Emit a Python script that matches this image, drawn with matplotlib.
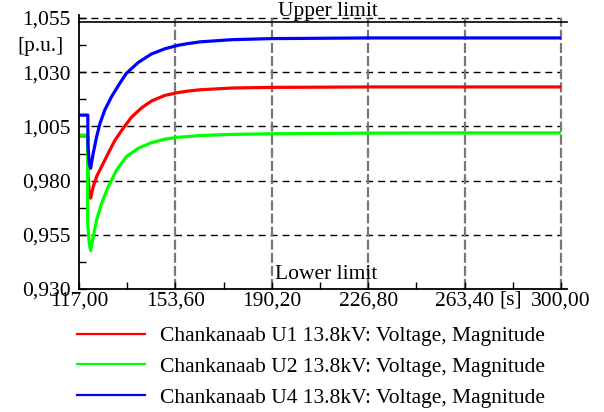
import matplotlib
matplotlib.use("Agg")
import matplotlib.pyplot as plt
from matplotlib.lines import Line2D

# values (time in s, voltage in p.u.)
t_u1 = [117.0, 120.35, 120.4, 120.9, 121.4, 122.4, 123.7, 125.6, 128.1, 130.6,
        133.8, 136.9, 140.7, 144.5, 149.6, 154.6, 158.4, 163.0, 175.0, 190.2,
        226.8, 263.4, 300.0]
v_u1 = [1.0006, 1.0006, 0.9819, 0.9742, 0.9719, 0.9772, 0.9819, 0.9865, 0.9926, 0.9985,
        1.0042, 1.0092, 1.0135, 1.0167, 1.0193, 1.0206, 1.0213, 1.0219, 1.0227, 1.0230,
        1.0232, 1.0232, 1.0232]

t_u2 = [117.0, 120.25, 120.3, 120.9, 121.4, 122.4, 123.7, 125.6, 128.1, 131.3,
        135.0, 139.5, 144.5, 149.6, 154.6, 158.4, 163.0, 175.0, 190.2, 226.8,
        263.4, 300.0]
v_u2 = [1.0010, 1.0010, 0.9600, 0.9511, 0.9477, 0.9542, 0.9619, 0.9696, 0.9772, 0.9849,
        0.9911, 0.9949, 0.9975, 0.9991, 1.0000, 1.0003, 1.0008, 1.0013, 1.0016, 1.0019,
        1.0020, 1.0020]

t_u4 = [117.0, 120.35, 120.4, 120.9, 121.4, 122.4, 123.7, 125.0, 126.8, 129.4,
        132.5, 135.0, 139.5, 144.5, 149.6, 154.6, 158.4, 163.0, 175.0, 190.2,
        226.8, 263.4, 300.0]
v_u4 = [1.0102, 1.0102, 0.9960, 0.9880, 0.9857, 0.9926, 1.0003, 1.0065, 1.0126, 1.0188,
        1.0249, 1.0295, 1.0345, 1.0384, 1.0408, 1.0424, 1.0432, 1.0440, 1.0450, 1.0455,
        1.0458, 1.0458, 1.0458]

labels = ["Chankanaab U1 13.8kV: Voltage, Magnitude",
          "Chankanaab U2 13.8kV: Voltage, Magnitude",
          "Chankanaab U4 13.8kV: Voltage, Magnitude"]
colors = ["#ff0000", "#00ff00", "#0000ff"]

x_ticks = [117.0, 153.6, 190.2, 226.8, 263.4, 300.0]
y_ticks = [0.930, 0.955, 0.980, 1.005, 1.030, 1.055]
upper_limit = 1.0532
lower_limit = 0.930

plt.rcParams["font.family"] = ["Liberation Serif", "DejaVu Serif"]
FS = 15.5

fig = plt.figure(figsize=(6.04, 4.12), dpi=100)
ax = fig.add_axes([79 / 604, 1 - 289 / 412, 482 / 604, 271 / 412])

ax.set_xlim(x_ticks[0], x_ticks[-1])
ax.set_ylim(y_ticks[0], y_ticks[-1])

# grid: horizontal black thin dashes, vertical grey dashes
for y in y_ticks[1:]:
    ax.axhline(y, color="black", lw=1.0, dashes=(5, 3.6), zorder=1, clip_on=False)
for x in x_ticks[1:]:
    ax.axvline(x, color="#777777", lw=1.6, dashes=(4.5, 1.4), zorder=1, clip_on=False)

ax.plot(t_u1, v_u1, color=colors[0], lw=2.3, zorder=3, solid_joinstyle="round")
ax.plot(t_u2, v_u2, color=colors[1], lw=2.3, zorder=3, solid_joinstyle="round")
ax.plot(t_u4, v_u4, color=colors[2], lw=2.3, zorder=4, solid_joinstyle="round")

# limits
ax.axhline(upper_limit, xmin=0, xmax=1.012, color="black", lw=1.2, zorder=5, clip_on=False)
ax.text(0.62, upper_limit + 0.0003, "Upper limit", transform=ax.get_yaxis_transform(),
        ha="right", va="bottom", fontsize=FS)
ax.text(0.62, lower_limit + 0.0022, "Lower limit", transform=ax.get_yaxis_transform(),
        ha="right", va="bottom", fontsize=FS)

# axis lines
for s in ax.spines.values():
    s.set_visible(False)
ax.plot([0, 1.012], [0, 0], transform=ax.transAxes, color="black", lw=1.3, clip_on=False, zorder=6)
ax.plot([0, 0], [0, 1.012], transform=ax.transAxes, color="black", lw=1.3, clip_on=False, zorder=6)

ax.set_xticks(x_ticks)
ax.set_xticklabels([f"{v:.2f}".replace(".", ",") for v in x_ticks])
ax.set_xticks([(a + b) / 2 for a, b in zip(x_ticks[:-1], x_ticks[1:])], minor=True)
ax.set_yticks(y_ticks)
ax.set_yticklabels([f"{v:.3f}".replace(".", ",") for v in y_ticks])
ax.set_yticks([(a + b) / 2 for a, b in zip(y_ticks[:-1], y_ticks[1:])], minor=True)
ax.tick_params(which="both", direction="in", length=5, width=1, labelsize=FS, color="black")
ax.tick_params(axis="x", which="major", pad=2)
ax.tick_params(axis="y", which="major", pad=6)

ax.text(511 / 604, 1 - 300 / 412, "[s]", transform=fig.transFigure, ha="center", va="center", fontsize=FS)
ax.text(64 / 604, 1 - 47 / 412, "[p.u.]", transform=fig.transFigure, ha="right", va="center", fontsize=FS)

handles = [Line2D([], [], color=c, lw=1.6) for c in colors]
fig.legend(handles, labels, loc="upper left", bbox_to_anchor=(77 / 604, 1 - 326 / 412),
           frameon=False, fontsize=FS, handlelength=3.15, handletextpad=0.7,
           labelspacing=0.5, borderpad=0, borderaxespad=0)

fig.savefig("out.png", dpi=100)
